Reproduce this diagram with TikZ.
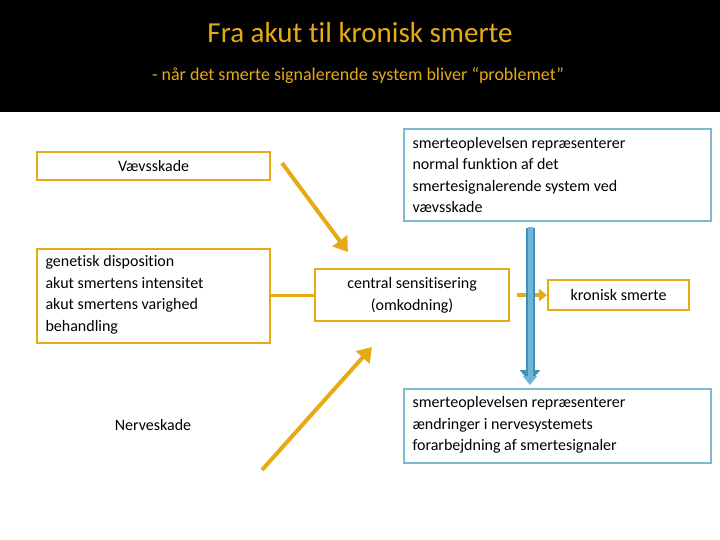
\documentclass[tikz,border=0pt]{standalone}
\usepackage{fontspec}
\setmainfont[RawFeature={-liga;-clig}]{Carlito}
\usetikzlibrary{arrows.meta}
\definecolor{org}{HTML}{E8AA14}
\definecolor{blu}{HTML}{7FB9CF}
\definecolor{bld}{HTML}{3F8FB8}
\definecolor{blf}{HTML}{6EB6D8}
\tikzset{obox/.style={draw=org,line width=2.2pt,anchor=north west,inner sep=0pt},
 bbox/.style={draw=blu,line width=2.2pt,anchor=north west,inner sep=0pt},
 txt/.style={font=\fontsize{16}{21.5}\selectfont,align=left},
 oarr/.style={org,line width=4pt,-{Triangle[length=14pt,width=18pt]}}}
\begin{document}
\begin{tikzpicture}[x=1pt,y=-1pt]
\useasboundingbox (0,0) rectangle (720,540);
\fill[black] (0,0) rectangle (720,112);
\node[text=org,font=\fontsize{29}{32}\selectfont] (t) at (360,33) {Fra akut til kronisk smerte};
\node[text=org,font=\fontsize{18}{20}\selectfont] (st) at (358,76) {- når det smerte signalerende system bliver “problemet”};
\node[obox,minimum width=233,minimum height=28] (v) at (36,151) {};
\node[txt] at (v.center) {Vævsskade};
\node[obox,minimum width=233,minimum height=94] (g) at (36,248) {};
\node[txt,anchor=west] at (42,295) {genetisk disposition\\akut smertens intensitet\\akut smertens varighed\\behandling};
\node[txt] (n) at (153,425) {Nerveskade};
\node[bbox,minimum width=307,minimum height=92] (b1) at (403,128) {};
\node[txt,anchor=west] at (409,175) {smerteoplevelsen repræsenterer\\normal funktion af det\\smertesignalerende system  ved\\vævsskade};
\node[obox,minimum width=194,minimum height=52] (c) at (314,268) {};
\node[txt,align=center] at (c.center) {central sensitisering\\(omkodning)};
\node[obox,minimum width=141,minimum height=30] (k) at (547,279) {};
\node[txt] at (k.center) {kronisk smerte};
\node[bbox,minimum width=307,minimum height=74] (b2) at (403,388) {};
\node[txt,anchor=west] at (409,425) {smerteoplevelsen repræsenterer\\ændringer i nervesystemets\\forarbejdning af smertesignaler};
\draw[org,line width=3pt] (g.east|-c.west) -- (c.west);
\coordinate (a1) at (282,163); \coordinate (a1e) at (348,252);
\draw[oarr] (a1) -- (a1e);
\coordinate (a2) at (262,470); \coordinate (a2e) at (372,347);
\draw[oarr] (a2) -- (a2e);
\draw[org,line width=4pt,-{Triangle[length=8pt,width=12pt]}] (c.east)++(7,0) -- (k.west);
\coordinate (bs) at (530,228); \coordinate (be) at (530,382);
\draw[draw=bld,line width=9pt,-{Triangle[length=12pt,width=20pt]}] (bs) -- (be);
\draw[draw=blf,line width=5pt,-{Triangle[length=9pt,width=14pt]}] ([yshift=1pt]bs) -- ([yshift=-3pt]be);
\end{tikzpicture}
\end{document}
